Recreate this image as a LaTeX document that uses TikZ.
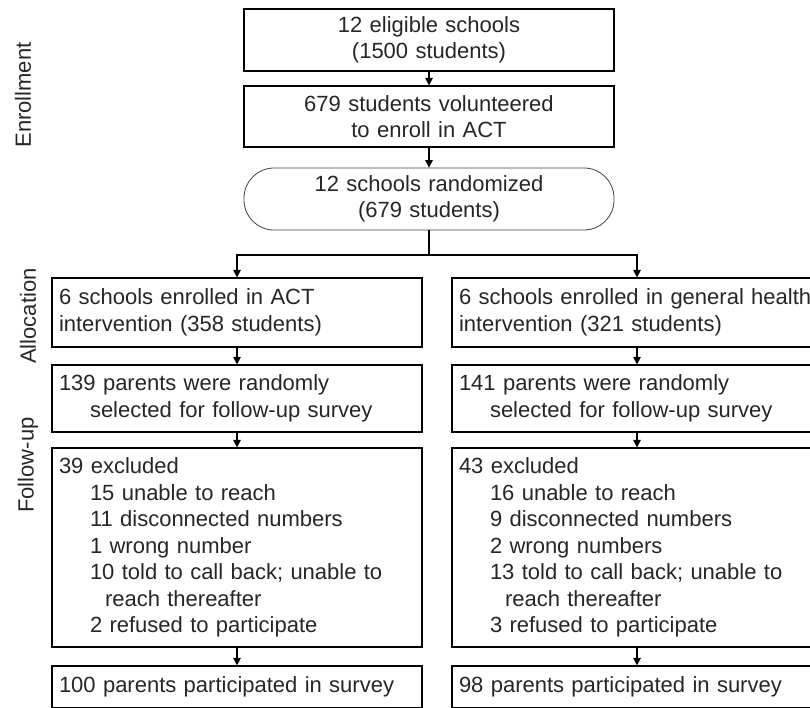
\documentclass[tikz,border=0pt]{standalone}
\usepackage{fontspec}
\setmainfont{Liberation Sans}
\usepackage{tikz}
\usetikzlibrary{arrows.meta}

\tikzset{
    box/.style={draw, line width=1.1pt, minimum width=370pt, inner xsep=7pt, inner ysep=0pt,
        font=\fontsize{22}{26.5}\selectfont, text=black!85},
    midbox/.style={box, align=center, text width=356pt},
    leftbox/.style={box, align=left, text width=356pt},
    pill/.style={midbox, draw=black!75, line width=0.8pt, rounded corners=30pt},
    arr/.style={line width=1.1pt, -{Triangle[width=7.5pt,length=7.5pt]}},
    phase/.style={rotate=90, font=\fontsize{22}{26}\selectfont, text=black!85}
}

\newcommand{\ind}{\hspace*{31pt}}

\begin{document}
\begin{tikzpicture}[x=1pt, y=-1pt]
        % frame
        \clip (0,0) rectangle (810,707);

        % enrollment
        % ----------
        \node[midbox, minimum height=62pt] (elig) at (429,40) {12 eligible schools\\(1500 students)};
        \node[midbox, minimum height=61pt] (vol) at (429,116.5) {679 students volunteered\\to enroll in ACT};
        \node[pill, minimum height=62pt] (rand) at (429,199) {12 schools randomized\\(679 students)};

        % allocation
        % ----------
        \node[leftbox, minimum height=69pt] (allocA) at (237,312.5) {6 schools enrolled in ACT\\intervention (358 students)};
        \node[leftbox, minimum height=69pt] (allocB) at (637,312.5) {6 schools enrolled in general health\\intervention (321 students)};

        % follow-up
        % ---------
        \node[leftbox, minimum height=67pt] (selA) at (237,398.5) {139 parents were randomly\\\ind selected for follow-up survey};
        \node[leftbox, minimum height=67pt] (selB) at (637,398.5) {141 parents were randomly\\\ind selected for follow-up survey};

        \node[leftbox, minimum height=199pt] (exclA) at (237,547.5) {39 excluded\\
            \ind 15 unable to reach\\
            \ind 11 disconnected numbers\\
            \ind 1 wrong number\\
            \ind 10 told to call back; unable to\\
            \ind\hspace*{15pt}reach thereafter\\
            \ind 2 refused to participate};
        \node[leftbox, minimum height=199pt] (exclB) at (637,547.5) {43 excluded\\
            \ind 16 unable to reach\\
            \ind 9 disconnected numbers\\
            \ind 2 wrong numbers\\
            \ind 13 told to call back; unable to\\
            \ind\hspace*{15pt}reach thereafter\\
            \ind 3 refused to participate};

        \node[leftbox, minimum height=42pt] (partA) at (237,687) {100 parents participated in survey};
        \node[leftbox, minimum height=42pt] (partB) at (637,687) {98 parents participated in survey};

        % phase labels
        \node[phase] (lblEnr) at (23,95) {Enrollment};
        \node[phase] (lblAll) at (28,316) {Allocation};
        \node[phase] (lblFol) at (28,465) {Follow-up};

        % arrows
        \draw[arr] (elig) -- (vol);
        \draw[arr] (vol) -- (rand);

        \coordinate (split) at (429,255);
        \draw[line width=1.1pt] (rand) -- (split);
        \draw[arr] (split) -| (allocA);
        \draw[arr] (split) -| (allocB);

        \foreach \s in {A, B} {
            \draw[arr] (alloc\s) -- (sel\s);
            \draw[arr] (sel\s) -- (excl\s);
            \draw[arr] (excl\s) -- (part\s);
        }

    \end{tikzpicture}
\end{document}
